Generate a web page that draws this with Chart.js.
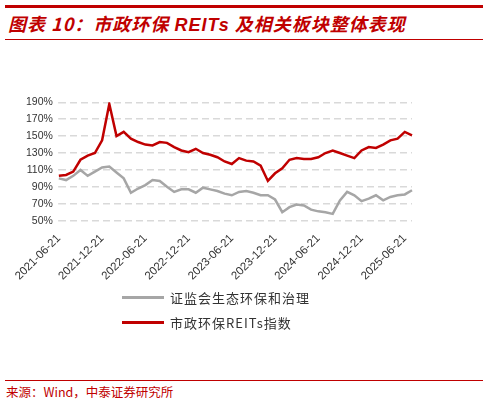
<!DOCTYPE html>
<html><head><meta charset="utf-8">
<script src="https://cdn.jsdelivr.net/npm/chart.js@4"></script>
<style>
body{margin:0;width:488px;height:405px;background:#fff;position:relative;font-family:"Noto Sans CJK SC",sans-serif;overflow:hidden}
.hl{position:absolute;left:5px;width:478px;background:#c00000}
#title{position:absolute;left:8px;top:10px;font-size:18px;font-weight:bold;font-style:italic;color:#c00000;letter-spacing:1px}
#wrap{position:absolute;left:0;top:90px;width:488px;height:200px}
.leg{position:absolute;left:122px;font-size:13px;color:#333;display:flex;align-items:center;letter-spacing:1px}
.leg span{display:inline-block;width:42px;height:3px;margin-right:6px}
#src{position:absolute;left:6px;top:382px;font-size:12.5px;color:#c00000}
</style></head><body>
<div class="hl" style="top:5px;height:3px"></div>
<div id="title">图表 10：市政环保 <span style="font-family:'Liberation Sans',Arial">REITs</span> 及相关板块整体表现</div>
<div class="hl" style="top:39px;height:1px"></div>
<div id="wrap"><canvas id="c"></canvas></div>
<div class="leg" style="top:288px"><span style="background:#a6a6a6"></span>证监会生态环保和治理</div>
<div class="leg" style="top:313px"><span style="background:#c00000"></span>市政环保REITs指数</div>
<div class="hl" style="top:380px;height:1px"></div>
<div id="src">来源：Wind，中泰证券研究所</div>
<script>
const labels=[];
for(let m=0;m<50;m++){const y=2021+Math.floor((5+m)/12);const mo=(5+m)%12+1;labels.push(y+'-'+String(mo).padStart(2,'0')+'-21');}
const graySeries=[100,98,103,110,103,108,113,114,107,100,83,88,92,98,97,90,84,87,87,83,89,87,85,82,80,84,85,83,80,80,75,60,66,69,68,63,61,60,58,74,84,80,73,76,80,74,78,80,81,86];
const redSeries=[103,104,108,122,127,130,145,188,150,155,147,143,140,139,143,142,137,133,131,135,130,128,125,120,117,124,121,120,115,97,106,112,122,124,123,123,125,130,133,130,127,124,133,137,136,140,145,147,155,151];
const yTicks=[50,70,90,110,130,150,170,190];
new Chart(document.getElementById('c'),{type:'line',
data:{labels,datasets:[
{label:'证监会生态环保和治理',data:graySeries,borderColor:'#a6a6a6',borderWidth:2.5,pointRadius:0,tension:0},
{label:'市政环保REITs指数',data:redSeries,borderColor:'#c00000',borderWidth:2.5,pointRadius:0,tension:0}]},
options:{responsive:true,maintainAspectRatio:false,animation:false,
layout:{padding:{left:20,right:76,top:8,bottom:4}},
plugins:{legend:{display:false},tooltip:{enabled:false}},
scales:{
x:{grid:{display:false},border:{display:false},ticks:{autoSkip:false,maxRotation:45,minRotation:45,color:'#333',font:{size:11.5,family:'Liberation Sans'},
 callback:function(v,i){return i%6===0?labels[i]:''}}},
y:{min:50,max:190,afterBuildTicks:a=>{a.ticks=yTicks.map(v=>({value:v}))},
 grid:{color:'#d9d9d9',lineWidth:1.5,tickLength:0},border:{display:true,color:'rgba(0,0,0,0)',dash:[7,4]},
 ticks:{color:'#333',padding:6,font:{size:10.5,family:'Liberation Sans'},callback:v=>v+'%'}}}}});
</script></body></html>
